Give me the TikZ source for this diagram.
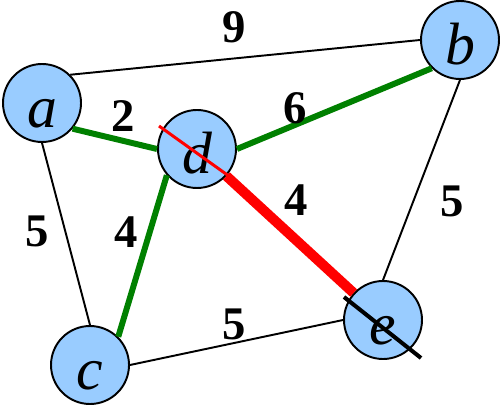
\documentclass[tikz,border=0pt]{standalone}
\usepackage{fontspec}
\setmainfont{Liberation Serif}
\usetikzlibrary{arrows,shapes}

\definecolor{vertexblue}{HTML}{99CCFF}
\definecolor{treegreen}{HTML}{008000}

\begin{document}
\begin{tikzpicture}[x=0.02cm, y=-0.02cm,
  vertex/.style={circle, draw, line width=1.1pt, fill=vertexblue, minimum size=1.56cm, inner sep=0pt, font=\fontsize{34}{34}\selectfont\itshape, text height=28.4pt, text depth=0pt},
  weight/.style={black, font=\fontsize{26.6}{30}\selectfont\bfseries, inner sep=0pt},
  plain/.style={line width=1.1pt},
  tree/.style={treegreen, line width=3.4pt},
  heavy/.style={red, line width=5.7pt}]
  \useasboundingbox (0,0) rectangle (503,408);

  % Nodes
  \node[vertex] (a) at (42,103) {a};
  \node[vertex] (b) at (460,40) {b};
  \node[vertex] (d) at (197,149) {d};
  \node[vertex] (c) at (90,365) {c};
  \node[vertex] (e) at (383,320) {e};

  % Edges
  \path (a.45) edge[plain] node[weight, shift={(-11.3,-29.7)}] {9} (b.west);
  \path (a.-40) edge[tree] node[weight, shift={(8,-22.5)}] {2} (d.west);
  \path (d.east) edge[tree] node[weight, shift={(-38.7,-0.8)}] {6} (b.225);
  \path (d) edge[heavy] node[weight, shift={(6,-34.5)}] {4} (e);
  \path (b.south) edge[plain] node[weight, shift={(30.5,21)}] {5} (e.north);
  \path (a.south) edge[plain] node[weight, shift={(-29,-3)}] {5} (c.north);
  \path (d.221) edge[tree] node[weight, shift={(-16.6,-24)}] {4} (c.45);
  \path (c.east) edge[plain] node[weight, shift={(-2.5,-18.5)}] {5} (e.west);

  % Cross marks
  \coordinate (dmark1) at (159,126);
  \coordinate (dmark2) at (233,179);
  \coordinate (emark1) at (344,297);
  \coordinate (emark2) at (421,358);
  \draw[red, line width=1.7pt] (dmark1) -- (dmark2);
  \draw[line width=2.3pt] (emark1) -- (emark2);
\end{tikzpicture}
\end{document}
